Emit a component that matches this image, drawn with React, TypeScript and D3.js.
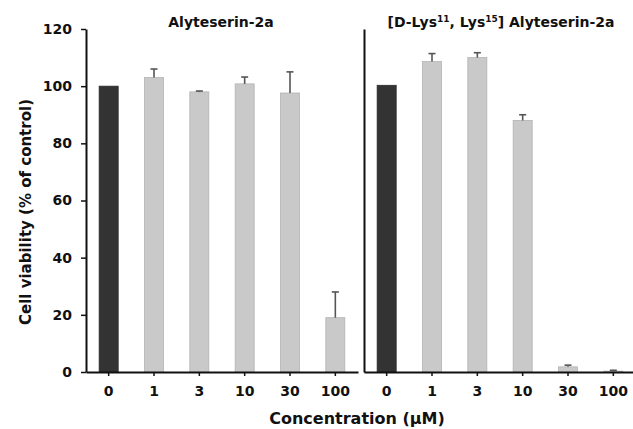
import React, { useRef, useEffect } from "react";
import * as d3 from "d3";

const concentrations = ["0", "1", "3", "10", "30", "100"];
const nativeMeans = [100, 103, 98, 100.8, 97.6, 19];
const nativeErrors = [0, 3, 0.3, 2.4, 7.4, 9];
const analogMeans = [100.3, 108.6, 110, 88, 1.8, 0.3];
const analogErrors = [0, 2.8, 1.7, 2, 0.6, 0.3];
const yTicks = [0, 20, 40, 60, 80, 100, 120];

const FONT = "'DejaVu Sans', Arial, sans-serif";

const App = () => {
  const ref = useRef<SVGSVGElement>(null);

  useEffect(() => {
    const svg = d3.select(ref.current);
    svg.selectAll("*").remove();

    const width = 633;
    const height = 429;
    svg.attr("width", width).attr("height", height);

    const y = d3.scaleLinear().domain([0, 120]).range([372, 29]);

    const panels = [
      { x0: 86, x1: 358, means: nativeMeans, errors: nativeErrors, showY: true },
      { x0: 364, x1: 636, means: analogMeans, errors: analogErrors, showY: false },
    ];

    panels.forEach((p) => {
      const x = d3.scaleBand().domain(concentrations).range([p.x0, p.x1]).paddingInner(0.58).paddingOuter(0.29);
      const g = svg.append("g");

      // bars
      g.selectAll(".bar")
        .data(p.means)
        .enter()
        .append("rect")
        .attr("x", (_d, i) => x(concentrations[i]) as number)
        .attr("y", (d) => y(d))
        .attr("width", x.bandwidth())
        .attr("height", (d) => y(0) - y(d))
        .attr("fill", (_d, i) => (i === 0 ? "#333333" : "#c9c9c9"))
        .attr("stroke", (_d, i) => (i === 0 ? "#2a2a2a" : "#b3b3b3"))
        .attr("stroke-width", 0.8);

      // upper error bars
      p.means.forEach((m, i) => {
        const e = p.errors[i];
        if (!e) return;
        const cx = (x(concentrations[i]) as number) + x.bandwidth() / 2;
        g.append("line")
          .attr("x1", cx).attr("x2", cx)
          .attr("y1", y(m)).attr("y2", y(m + e))
          .attr("stroke", "#555").attr("stroke-width", 1.6);
        g.append("line")
          .attr("x1", cx - 3.5).attr("x2", cx + 3.5)
          .attr("y1", y(m + e)).attr("y2", y(m + e))
          .attr("stroke", "#555").attr("stroke-width", 1.6);
      });

      // x axis
      const xAxis = g.append("g")
        .attr("transform", `translate(0,${y(0)})`)
        .call(d3.axisBottom(x).tickSize(4).tickSizeOuter(0));
      xAxis.select(".domain").attr("stroke", "#111").attr("stroke-width", 2);
      xAxis.selectAll(".tick line").attr("stroke", "#111").attr("stroke-width", 1.5);
      xAxis.selectAll(".tick text")
        .attr("dy", "0")
        .attr("y", 24)
        .attr("fill", "#111")
        .style("font-family", FONT)
        .style("font-size", "14px")
        .style("font-weight", "bold");

      // y axis
      const yAxis = g.append("g")
        .attr("transform", `translate(${p.x0},0)`)
        .call(d3.axisLeft(y).tickValues(p.showY ? yTicks : []).tickSize(5).tickSizeOuter(0).tickPadding(9));
      yAxis.select(".domain").attr("stroke", "#111").attr("stroke-width", 2);
      yAxis.selectAll(".tick line").attr("stroke", "#111").attr("stroke-width", 1.5);
      yAxis.selectAll(".tick text")
        .attr("fill", "#111")
        .style("font-family", FONT)
        .style("font-size", "14px")
        .style("font-weight", "bold");
    });

    // panel titles
    svg.append("text")
      .attr("x", 221)
      .attr("y", 27)
      .attr("text-anchor", "middle")
      .attr("fill", "#111")
      .style("font-family", FONT)
      .style("font-size", "14px")
      .style("font-weight", "bold")
      .text("Alyteserin-2a");

    const t2 = svg.append("text")
      .attr("x", 501)
      .attr("y", 27)
      .attr("text-anchor", "middle")
      .attr("fill", "#111")
      .style("font-family", FONT)
      .style("font-size", "14px")
      .style("font-weight", "bold");
    t2.append("tspan").text("[D-Lys");
    t2.append("tspan").attr("dy", -5).style("font-size", "9px").text("11");
    t2.append("tspan").attr("dy", 5).text(", Lys");
    t2.append("tspan").attr("dy", -5).style("font-size", "9px").text("15");
    t2.append("tspan").attr("dy", 5).text("] Alyteserin-2a");

    // axis titles
    svg.append("text")
      .attr("x", 357)
      .attr("y", 424)
      .attr("text-anchor", "middle")
      .attr("fill", "#111")
      .style("font-family", FONT)
      .style("font-size", "16px")
      .style("font-weight", "bold")
      .text("Concentration (µM)");

    svg.append("text")
      .attr("transform", `translate(31,212) rotate(-90)`)
      .attr("text-anchor", "middle")
      .attr("fill", "#111")
      .style("font-family", FONT)
      .style("font-size", "15px")
      .style("font-weight", "bold")
      .text("Cell viability (% of control)");
  }, []);

  return (
    <svg ref={ref} style={{ position: "absolute", left: 0, top: 0, display: "block", background: "#fff" }}></svg>
  );
};

export default App;
